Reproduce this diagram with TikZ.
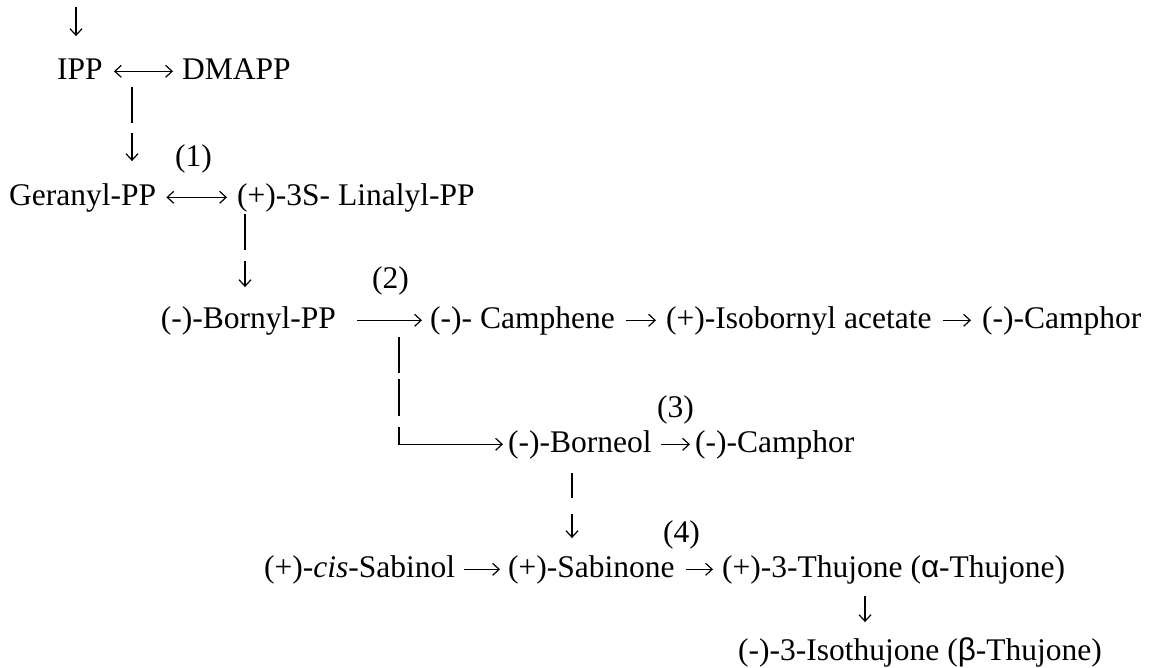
\documentclass[tikz,border=0pt]{standalone}
\usepackage{fontspec}
\setmainfont{Liberation Serif}
\newfontfamily\grk{Liberation Sans}
\usetikzlibrary{arrows.meta}
\begin{document}
\begin{tikzpicture}[x=1pt,y=-1pt,
  txt/.style={inner sep=0pt, anchor=base west, text height=21.7pt, text depth=6.3pt,
              font=\fontsize{31.5}{36}\selectfont},
  txte/.style={txt, anchor=base east},
  tip/.style={},
  arr/.style={line width=1.2pt, -{Straight Barb[length=6.5pt,width=12pt]}},
  darr/.style={line width=1.2pt, {Straight Barb[length=6.5pt,width=12pt]}-{Straight Barb[length=6.5pt,width=12pt]}},
  bar/.style={line width=1.3pt}]
\useasboundingbox (0,0) rectangle (1150,667);

% row A
\node[txt] (ipp) at (57,79) {IPP};
\node[txt] (dmapp) at (182,79) {DMAPP};
\coordinate (top) at (76,7);
\draw[arr, shorten >=21pt] (top) -- (top |- ipp.north);
\draw[darr, shorten <=11pt, shorten >=9pt] (ipp.east) -- (dmapp.west);

% IPP -> Geranyl
\coordinate (a1) at (132,87);
\coordinate (a2) at (132,123);
\coordinate (a3) at (132,133);
\node[txt] (l1) at (175,166) {(1)};

% row B
\node[txt] (ger) at (9,205) {Geranyl-PP};
\node[txt] (lin) at (237,205) {(+)-3S- Linalyl-PP};
\draw[bar] (a1) -- (a2);
\draw[arr, shorten >=22pt] (a3) -- (a3 |- ger.north);
\draw[darr, shorten <=10pt, shorten >=10pt] (ger.east) -- (lin.west);

% Linalyl -> Bornyl
\coordinate (b1) at (245,214);
\coordinate (b2) at (245,250);
\coordinate (b3) at (245,261);
\node[txt] (l2) at (372,288) {(2)};

% row C
\node[txte] (born) at (336,328) {(-)-Bornyl-PP};
\node[txt] (camph) at (430,328) {(-)- Camphene};
\node[txt] (iso) at (666,328) {(+)-Isobornyl acetate};
\node[txt] (cam1) at (982,328) {(-)-Camphor};
\draw[bar] (b1) -- (b2);
\draw[arr, shorten >=19pt] (b3) -- (b3 |- born.north);
\draw[arr, shorten <=21pt, shorten >=8pt] (born.east) -- (camph.west);
\draw[arr, shorten <=11pt, shorten >=10pt] (camph.east) -- (iso.west);
\draw[arr, shorten <=11pt, shorten >=11pt] (iso.east) -- (cam1.west);

% branch to Borneol
\coordinate (c1) at (399,337);
\coordinate (c2) at (399,373);
\coordinate (c3) at (399,379);
\coordinate (c4) at (399,416);
\coordinate (c5) at (399,427);
\node[txt] (l3) at (657,417) {(3)};

% row D
\node[txt] (borneol) at (508,452) {(-)-Borneol};
\node[txt] (cam2) at (695,452) {(-)-Camphor};
\draw[bar] (c1) -- (c2);
\draw[bar] (c3) -- (c4);
\draw[arr, shorten >=5pt] (c5) -- (c5 |- borneol.west) -- (borneol.west);
\draw[arr, shorten <=9pt, shorten >=5pt] (borneol.east) -- (cam2.west);

% Borneol -> Sabinone
\coordinate (d1) at (572,473);
\coordinate (d2) at (572,498);
\coordinate (d3) at (572,514);
\node[txt] (l4) at (663,542) {(4)};

% row E
\node[txt] (sabinol) at (264,577) {(+)-\textit{cis}-Sabinol};
\node[txt] (sabinone) at (508,577) {(+)-Sabinone};
\node[txt] (thu) at (722,577) {(+)-3-Thujone ({\grk α}-Thujone)};
\draw[bar] (d1) -- (d2);
\draw[arr, shorten >=17pt] (d3) -- (d3 |- sabinone.north);
\draw[arr, shorten <=9pt, shorten >=8pt] (sabinol.east) -- (sabinone.west);
\draw[arr, shorten <=11pt, shorten >=9pt] (sabinone.east) -- (thu.west);

% row F
\node[txt] (isothu) at (738,660) {(-)-3-Isothujone ({\grk β}-Thujone)};
\coordinate (e1) at (865,596);
\draw[arr, shorten >=16pt] (e1) -- (e1 |- isothu.north);
\end{tikzpicture}
\end{document}
